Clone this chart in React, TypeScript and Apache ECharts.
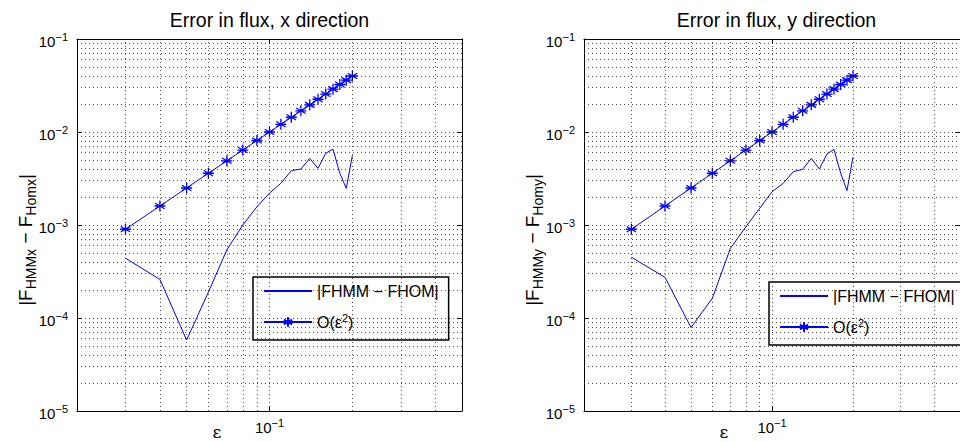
import React, { useEffect, useRef } from "react";
import * as echarts from "echarts";

// epsilon values
const EPS = [0.03, 0.04, 0.05, 0.06, 0.07, 0.08, 0.09, 0.1, 0.11, 0.12, 0.13, 0.14, 0.15, 0.16, 0.17, 0.18, 0.19, 0.2];
// |FHMM - FHOM| in x direction
const ERR_X = [4.4e-4, 2.6e-4, 5.8e-5, 1.9e-4, 5.4e-4, 1.0e-3, 1.57e-3, 2.2e-3, 2.81e-3, 3.84e-3, 4.0e-3, 5.2e-3, 4.07e-3, 5.9e-3, 6.56e-3, 3.6e-3, 2.48e-3, 5.6e-3];
// |FHMM - FHOM| in y direction
const ERR_Y = [4.5e-4, 2.74e-4, 7.9e-5, 1.63e-4, 5.6e-4, 9.6e-4, 1.51e-3, 2.28e-3, 2.8e-3, 3.74e-3, 3.97e-3, 5.2e-3, 4.0e-3, 5.8e-3, 6.5e-3, 3.6e-3, 2.34e-3, 5.35e-3];
// reference O(eps^2)
const ORDER2 = [0.0009, 0.0016, 0.0025, 0.0036, 0.0049, 0.0064, 0.0081, 0.01, 0.0121, 0.0144, 0.0169, 0.0196, 0.0225, 0.0256, 0.0289, 0.0324, 0.0361, 0.04];

const X_TICKS = [0.1];
const Y_TICKS = [1e-5, 1e-4, 1e-3, 1e-2, 1e-1];
const X_GRID = [0.03, 0.04, 0.05, 0.06, 0.07, 0.08, 0.09, 0.1, 0.2, 0.3, 0.4];
const Y_GRID = [
  2e-5, 3e-5, 4e-5, 5e-5, 6e-5, 7e-5, 8e-5, 9e-5, 1e-4,
  2e-4, 3e-4, 4e-4, 5e-4, 6e-4, 7e-4, 8e-4, 9e-4, 1e-3,
  2e-3, 3e-3, 4e-3, 5e-3, 6e-3, 7e-3, 8e-3, 9e-3, 1e-2,
  2e-2, 3e-2, 4e-2, 5e-2, 6e-2, 7e-2, 8e-2, 9e-2,
];

const TITLES = ["Error in flux, x direction", "Error in flux, y direction"];
const Y_SUBS = [["HMMx", "Homx"], ["HMMy", "Homy"]];
const NAME_ERR = "|FHMM \u2212 FHOM|";
const NAME_O2 = "O(\u03b5^2)";

const FONT = '"Liberation Sans", Arial, Helvetica, sans-serif';
const BLUE = "#0000ff";
const STAR = "path://M5 0L5 10M0.7 2.5L9.3 7.5M0.7 7.5L9.3 2.5M0 5L10 5";

const GRIDS = [
  { left: 77, top: 39, width: 385, height: 372, legendLeft: 253, legendTop: 277 },
  { left: 584, top: 39, width: 385, height: 372, legendLeft: 769, legendTop: 282 },
];

function powLabel(v: number) {
  const l = Math.log10(v);
  const e = Math.round(l);
  if (Math.abs(l - e) > 1e-6) return "";
  return `{b|10}{s|${e < 0 ? "\u2212" : ""}${Math.abs(e)}}`;
}

const LABEL_RICH = {
  b: { fontSize: 15, fontFamily: FONT, color: "#000", lineHeight: 20 },
  s: { fontSize: 11, fontFamily: FONT, color: "#000", lineHeight: 11, verticalAlign: "top" },
};

export default function App() {
  const ref = useRef<HTMLDivElement>(null);
  useEffect(() => {
    document.body.style.margin = "0";
    if (!ref.current) return;
    const chart = echarts.init(ref.current, undefined, { renderer: "svg" });

    const xAxis: any[] = [];
    const yAxis: any[] = [];
    const series: any[] = [];
    const legend: any[] = [];
    const graphic: any[] = [];

    GRIDS.forEach((g, gi) => {
      const axisLine = { show: true, onZero: false, lineStyle: { color: "#000", width: 1 } };
      xAxis.push({
        type: "log", logBase: 10, gridIndex: gi, min: 0.02, max: 0.5, position: "bottom",
        axisLine,
        axisTick: { show: true, inside: true, length: 5, customValues: X_TICKS, lineStyle: { color: "#000" } },
        axisLabel: { show: true, customValues: X_TICKS, formatter: powLabel, rich: LABEL_RICH, margin: 6, color: "#000" },
        splitLine: { show: false },
      });
      xAxis.push({
        type: "log", logBase: 10, gridIndex: gi, min: 0.02, max: 0.5, position: "top",
        axisLine,
        axisTick: { show: true, inside: true, length: 5, customValues: X_TICKS, lineStyle: { color: "#000" } },
        axisLabel: { show: false },
        splitLine: { show: false },
      });
      yAxis.push({
        type: "log", logBase: 10, gridIndex: gi, min: 1e-5, max: 1e-1, position: "left",
        axisLine,
        axisTick: { show: true, inside: true, length: 5, customValues: Y_TICKS, lineStyle: { color: "#000" } },
        axisLabel: { show: true, customValues: Y_TICKS, formatter: powLabel, rich: LABEL_RICH, margin: 9, color: "#000", padding: [5, 0, 0, 0] },
        splitLine: { show: false },
      });
      yAxis.push({
        type: "log", logBase: 10, gridIndex: gi, min: 1e-5, max: 1e-1, position: "right",
        axisLine,
        axisTick: { show: true, inside: true, length: 5, customValues: Y_TICKS, lineStyle: { color: "#000" } },
        axisLabel: { show: false },
        splitLine: { show: false },
      });

      const xi = gi * 2;
      const yi = gi * 2;
      const errs = gi === 0 ? ERR_X : ERR_Y;

      series.push({
        type: "line", name: "__grid" + gi, xAxisIndex: xi, yAxisIndex: yi, data: [], z: 1,
        silent: true,
        markLine: {
          silent: true, symbol: "none", animation: false, precision: 12,
          label: { show: false },
          lineStyle: { type: [1, 3], color: "#222", width: 1, opacity: 0.8 },
          emphasis: { disabled: true },
          data: [
            ...X_GRID.map((v) => ({ xAxis: v })),
            ...Y_GRID.map((v) => ({ yAxis: v })),
          ],
        },
      });
      series.push({
        type: "line", name: NAME_ERR, xAxisIndex: xi, yAxisIndex: yi, z: 3,
        data: EPS.map((e, i) => [e, errs[i]]),
        symbol: "none", showSymbol: false,
        lineStyle: { color: BLUE, width: 1 },
        itemStyle: { color: BLUE },
      });
      series.push({
        type: "line", name: NAME_O2, xAxisIndex: xi, yAxisIndex: yi, z: 3,
        data: EPS.map((e, i) => [e, ORDER2[i]]),
        symbol: STAR, symbolSize: 11, showSymbol: true,
        lineStyle: { color: BLUE, width: 1 },
        itemStyle: { color: "none", borderColor: BLUE, borderWidth: 1.3 },
      });

      legend.push({
        show: true, orient: "vertical", left: g.legendLeft, top: g.legendTop,
        data: [
          { name: NAME_ERR, itemStyle: { color: "transparent", borderWidth: 0, opacity: 0 } },
          NAME_O2,
        ],
        backgroundColor: "#fff", borderColor: "#000", borderWidth: 1.5, borderRadius: 0,
        padding: [6, 10, 10, 10], itemGap: 13, itemWidth: 48, itemHeight: 12,
        selectedMode: false,
        formatter: (name: string) => (name === NAME_O2 ? "{n|O(\u03b5}{s|2}{n|)}" : name),
        textStyle: {
          fontSize: 16, fontFamily: FONT, color: "#000",
          rich: {
            n: { fontSize: 16, fontFamily: FONT, color: "#000", lineHeight: 20 },
            s: { fontSize: 11, fontFamily: FONT, color: "#000", lineHeight: 11, verticalAlign: "top" },
          },
        },
      });

      const cx = g.left + g.width / 2;
      graphic.push({
        type: "text", x: cx, y: 20, silent: true,
        style: { text: TITLES[gi], fontSize: 19.5, fontFamily: FONT, fill: "#000", align: "center", verticalAlign: "middle" },
      });
      graphic.push({
        type: "text", x: g.left + 140, y: 432, silent: true,
        style: { text: "\u03b5", fontSize: 17, fontFamily: '"DejaVu Serif", "Liberation Serif", serif', fill: "#000", align: "center", verticalAlign: "middle" },
      });
      const [s1, s2] = Y_SUBS[gi];
      graphic.push({
        type: "text", x: g.left - 52, y: 240, rotation: Math.PI / 2, silent: true,
        style: {
          text: `{f||F}{u|${s1}}{f| \u2212 F}{u|${s2}}{f||}`,
          align: "center", verticalAlign: "middle",
          rich: {
            f: { fontSize: 19, fontFamily: FONT, fill: "#000", lineHeight: 26 },
            u: { fontSize: 14, fontFamily: FONT, fill: "#000", lineHeight: 13, verticalAlign: "bottom" },
          },
        },
      });
    });

    chart.setOption({
      animation: false,
      backgroundColor: "#fff",
      grid: GRIDS.map((g) => ({ left: g.left, top: g.top, width: g.width, height: g.height, containLabel: false })),
      xAxis,
      yAxis,
      legend,
      series,
      graphic,
    });
    return () => chart.dispose();
  }, []);
  return <div ref={ref} style={{ width: 960, height: 442 }} />;
}
